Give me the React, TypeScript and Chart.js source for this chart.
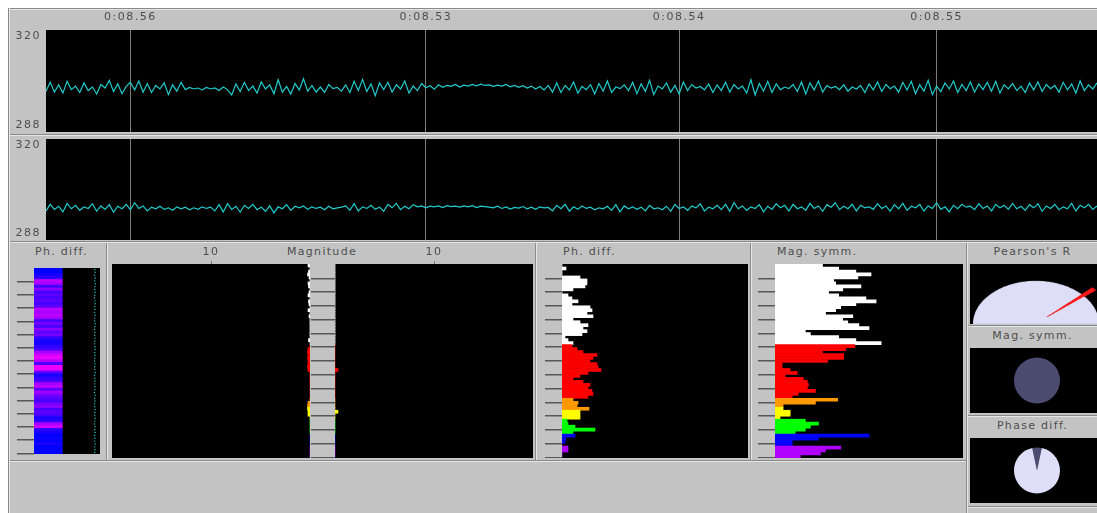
import React, { useEffect, useRef } from "react";
import { Chart, registerables } from "chart.js";

Chart.register(...registerables);
Chart.defaults.font.family = "'DejaVu Sans', sans-serif";
Chart.defaults.font.size = 11;
Chart.defaults.color = "#4e4e4e";

// ---------------- DATA ----------------
const yMin = 288;
const yMax = 320;
const markerIndex = [20, 90, 150, 211];
const markerLabels = ["0:08.56", "0:08.53", "0:08.54", "0:08.55"];

const traceA = [
  300.8, 303.6, 300.5, 302.8, 300.2, 303.9, 301.3, 302.4, 300.4, 303.4,
  301.0, 302.1, 299.9, 302.9, 301.8, 304.2, 300.7, 303.1, 300.0, 302.3,
  303.6, 301.2, 304.0, 300.5, 303.2, 300.4, 302.6, 301.5, 303.4, 299.7,
  302.8, 300.8, 303.6, 301.3, 302.0, 301.5, 301.8, 301.2, 302.0, 301.5,
  301.8, 301.0, 302.1, 301.3, 299.6, 303.1, 300.7, 303.6, 301.0, 302.4,
  300.2, 303.7, 301.5, 302.8, 300.0, 304.4, 300.5, 302.3, 299.9, 303.2,
  301.2, 304.7, 300.8, 302.6, 300.5, 302.1, 300.4, 302.9, 301.6, 302.0,
  300.8, 302.8, 300.4, 303.9, 301.0, 304.5, 300.7, 303.1, 299.4, 303.4,
  301.3, 303.6, 300.5, 302.8, 301.5, 304.0, 300.2, 302.4, 301.0, 303.2,
  301.9, 302.5, 301.4, 302.8, 302.0, 302.6, 302.3, 302.9, 302.1, 302.7,
  302.4, 302.9, 302.5, 303.0, 302.6, 302.8, 302.3, 302.7, 302.4, 302.9,
  302.2, 302.6, 302.0, 302.5, 301.8, 302.4, 301.5, 302.3, 301.2, 302.6,
  300.5, 303.4, 300.4, 302.6, 301.2, 303.7, 300.2, 302.3, 301.3, 302.9,
  299.9, 303.2, 300.8, 304.0, 300.4, 302.1, 301.6, 302.8, 301.0, 303.6,
  300.0, 303.1, 300.7, 304.2, 299.7, 302.4, 301.5, 303.4, 300.5, 302.6,
  299.9, 303.7, 301.0, 302.9, 301.8, 302.3, 301.2, 303.1, 300.4, 302.8,
  301.0, 303.6, 300.5, 302.9, 301.5, 302.4, 300.2, 304.4, 299.6, 303.2,
  300.8, 303.9, 300.4, 303.1, 301.3, 302.1, 301.6, 302.9, 300.7, 303.7,
  299.9, 303.4, 301.2, 304.0, 300.5, 302.6, 301.8, 302.3, 301.3, 302.8,
  300.8, 302.1, 301.5, 302.6, 300.4, 303.1, 301.2, 303.7, 300.7, 302.9,
  301.6, 302.4, 300.5, 303.6, 301.2, 303.9, 300.0, 302.8, 300.8, 304.2,
  299.7, 302.4, 300.7, 303.4, 301.5, 304.0, 300.4, 302.9, 301.0, 303.7,
  300.5, 303.1, 301.3, 303.6, 300.8, 303.9, 300.2, 302.8, 301.5, 303.2,
  301.0, 302.4, 300.4, 303.4, 301.2, 303.7, 300.7, 302.9, 301.6, 302.6,
  300.5, 303.6, 301.2, 303.1, 300.2, 304.0, 301.0, 302.8, 301.5, 303.4,
];

const traceB = [
  297.2, 299.3, 297.7, 298.7, 296.9, 299.6, 297.9, 299.0, 297.4, 298.5,
  298.0, 299.5, 297.1, 298.8, 297.7, 299.2, 296.8, 298.7, 297.9, 299.3,
  297.6, 299.8, 298.0, 298.8, 297.2, 298.4, 297.9, 298.7, 297.7, 298.2,
  297.4, 298.5, 297.9, 298.4, 297.6, 298.2, 297.7, 298.5, 298.0, 298.4,
  297.2, 299.2, 296.9, 299.5, 297.7, 298.7, 296.8, 299.0, 298.0, 299.3,
  297.6, 298.4, 297.1, 298.8, 296.6, 298.5, 297.9, 299.2, 297.4, 298.7,
  298.2, 298.8, 297.7, 298.5, 298.0, 298.4, 297.6, 298.7, 297.9, 298.2,
  298.4, 298.8, 297.4, 299.5, 297.2, 298.5, 298.0, 299.0, 297.7, 298.4,
  297.1, 299.3, 298.2, 299.6, 297.6, 298.7, 297.9, 299.2, 298.5, 298.8,
  298.2, 298.7, 298.5, 298.8, 298.3, 298.9, 298.6, 298.7, 298.4, 298.8,
  298.5, 298.9, 298.3, 298.7, 298.6, 298.4, 298.2, 298.7, 298.0, 298.5,
  297.8, 298.3, 298.1, 298.6, 297.9, 298.4, 297.7, 298.5, 298.2, 298.3,
  297.2, 299.0, 297.9, 299.3, 297.1, 298.5, 297.7, 298.8, 298.0, 298.4,
  297.6, 298.2, 297.9, 298.7, 297.4, 299.2, 296.9, 298.8, 297.9, 298.5,
  297.7, 298.4, 297.2, 299.0, 297.9, 298.2, 297.6, 298.7, 297.1, 299.3,
  298.0, 298.5, 297.4, 298.8, 298.2, 299.5, 297.2, 298.4, 297.9, 299.0,
  297.6, 299.3, 297.1, 299.8, 297.9, 298.8, 297.4, 298.5, 298.0, 299.2,
  296.9, 298.7, 297.7, 299.5, 298.2, 299.0, 297.2, 299.3, 297.9, 298.5,
  297.4, 299.6, 298.0, 298.8, 297.1, 299.2, 298.4, 299.8, 297.6, 298.7,
  297.9, 299.3, 297.2, 299.0, 298.2, 298.5, 297.7, 299.5, 298.0, 298.8,
  297.1, 299.2, 297.9, 299.6, 297.4, 298.7, 298.2, 299.3, 297.2, 298.8,
  298.0, 299.8, 297.7, 298.5, 296.9, 299.0, 297.9, 299.3, 298.4, 298.7,
  297.6, 299.5, 298.0, 298.8, 297.2, 299.3, 298.2, 299.0, 297.7, 299.6,
  297.9, 298.7, 297.4, 299.2, 298.2, 299.5, 297.1, 298.8, 298.0, 299.3,
  297.6, 298.5, 297.9, 299.6, 297.2, 299.0, 298.2, 299.3, 297.7, 298.8,
];

// Phase-difference colour strip (0 = blue, 1 = magenta), one value per row
const phStrip = [
  0, 0, 0.1, 0.2, 0.8, 0.7, 0.3, 0.6, 0.3, 0.4,
  0.3, 0.4, 0.3, 0.4, 0.8, 0.7, 0.8, 0.7, 0.3, 0.5,
  0.3, 0.6, 0.4, 0.5, 0.2, 0.1, 0.1, 0.2, 0.3, 0.7,
  0.9, 1.0, 0.8, 0.3, 1.0, 1.0, 0.4, 0.1, 0.2, 0.3,
  0.7, 0.8, 0.4, 0.7, 0.5, 0.4, 0.3, 0.5, 0.6, 0.3,
  0.4, 0.3, 0.1, 0.2, 0.7, 0.9, 0.2, 0.1, 0, 0.05,
  0, 0.1, 0, 0, 0,
];
const phStripLen = 30;
const phStripMax = 70;
const phDots = [
  64.5, 64.8, 64.2, 64.9, 64.4, 65.1, 64.6, 64.3, 64.8, 64.5,
  64.1, 64.7, 64.9, 64.4, 64.6, 64.2, 64.8, 64.5, 64.3, 64.9,
  64.6, 64.1, 64.7, 64.4, 64.8, 64.5, 64.2, 64.6, 64.9, 64.3,
  64.7, 64.5, 64.1, 64.8, 64.4, 64.6, 64.9, 64.2, 64.5, 64.7,
  64.3, 64.8, 64.6, 64.1, 64.9, 64.4, 64.7, 64.2, 64.5, 64.8,
  64.6, 64.3, 64.9, 64.5, 64.1, 64.7, 64.4, 64.8, 64.2, 64.6,
  64.5, 64.9, 64.3, 64.7, 64.4,
];

// Magnitude (left / right channel), scale 0..20
const magMax = 20;
const magLeft = [
  0.2, 0, 0.15, 0.25, 0.1, 0, 0.2, 0.15, 0, 0.1,
  0.2, 0, 0.15, 0.1, 0, 0.2, 0, 0.1, 0, 0,
  0, 0, 0, 0, 0, 0.15, 0,
  0, 0.2, 0.25, 0.2, 0.25, 0.2, 0.2, 0.25, 0.2, 0, 0, 0, 0, 0, 0, 0, 0, 0,
  0, 0.2, 0.25,
  0.25, 0.2, 0.2, 0,
  0, 0, 0, 0, 0,
  0, 0, 0, 0,
  0, 0, 0, 0,
];
const magRight = [
  0, 0, 0, 0, 0, 0, 0, 0, 0, 0,
  0, 0, 0, 0, 0, 0, 0, 0, 0, 0,
  0, 0, 0, 0, 0, 0, 0,
  0, 0, 0, 0, 0, 0, 0, 0, 0.3, 0, 0, 0, 0, 0, 0, 0, 0, 0,
  0, 0, 0,
  0, 0.3, 0, 0,
  0, 0, 0, 0, 0,
  0, 0, 0, 0,
  0, 0, 0, 0,
];

// Phase-difference histogram
const histMax = 186;
const phDiffCounts = [
  0, 4, 0, 0, 18, 25, 25, 23, 11, 0,
  6, 10, 16, 10, 28, 30, 25, 31, 11, 18,
  26, 21, 25, 20, 3, 6, 11,
  10, 15, 21, 35, 31, 28, 35, 36, 39, 26, 18, 11, 21, 28, 26, 30, 31, 26,
  11, 16, 15, 27,
  18, 18, 18,
  5, 6, 13, 33, 11,
  13, 4, 3,
  0, 6, 6, 0, 0,
];
// Magnitude-symmetry histogram
const magSymmCounts = [
  47, 63, 80, 95, 82, 58, 60, 85, 67, 53,
  63, 90, 100, 80, 65, 60, 50, 77, 67, 72,
  83, 93, 30, 35, 63, 80, 105,
  79, 70, 47, 68, 68, 52, 7, 7, 15, 22, 10, 28, 32, 33, 32, 40, 23, 17,
  62, 40, 8,
  8, 15, 15, 5,
  30, 43, 35, 30, 20,
  93, 43, 17, 17,
  65, 50, 45, 25,
];
const bandColors = ["#ffffff", "#ff0000", "#ff9900", "#ffff00", "#00ff00", "#0000ff", "#b000ff"];
const phBandSizes = [27, 18, 4, 3, 5, 3, 5];
const magBandSizes = [27, 18, 3, 4, 5, 4, 4];
const histTickRows = [5, 10, 15, 20, 25, 30, 35, 40, 45, 50, 55, 60, 65];

const pearsonR = 0.54;
const phaseDiffDeg = 24;
const magSymmValue = [1];

// ---------------- STYLE ----------------
const GREY = "#c3c3c3";
const TEXT = "#4e4e4e";
const LAVENDER = "#dedef8";
const SLATE = "#4c4c70";
const CYAN = "#22cccc";
const RED = "#ff1818";
const CLEAR = "rgba(0,0,0,0)";

const rowCount = phDiffCounts.length;
const rowLabels = phDiffCounts.map((_, i) => String(i));

function expandBands(sizes: number[]) {
  const out: string[] = [];
  sizes.forEach((n, i) => {
    for (let k = 0; k < n; k++) out.push(bandColors[i]);
  });
  return out;
}
const phColors = expandBands(phBandSizes);
const magColors = expandBands(magBandSizes);
const stripColors = phStrip.map((v) => `rgb(${Math.round(235 * v)},0,255)`);

const blackBg = {
  id: "blackBg",
  beforeDraw(chart: any) {
    const { ctx, chartArea: a } = chart;
    ctx.save();
    ctx.fillStyle = "#000";
    ctx.fillRect(a.left, a.top, a.right - a.left, a.bottom - a.top);
    ctx.restore();
  },
};
const spacing = {
  id: "spacing",
  beforeDraw(chart: any) {
    try {
      chart.ctx.letterSpacing = "1.5px";
    } catch (e) {}
  },
};

function zeroPad(s: any) {
  s.paddingTop = 0;
  s.paddingBottom = 0;
  s.paddingLeft = 0;
  s.paddingRight = 0;
}

function baseOptions(extra: any = {}) {
  return {
    animation: false,
    responsive: true,
    maintainAspectRatio: false,
    events: [],
    layout: { padding: 0 },
    plugins: { legend: { display: false }, tooltip: { enabled: false }, title: { display: false } },
    ...extra,
  };
}

function traceConfig(values: number[], showLabels: boolean) {
  return {
    type: "line",
    data: {
      datasets: [
        {
          data: values.map((v, i) => ({ x: i, y: v })),
          borderColor: CYAN,
          borderWidth: 1.2,
          pointRadius: 0,
          tension: 0,
          fill: false,
        },
      ],
    },
    options: baseOptions({
      scales: {
        x: {
          type: "linear",
          position: "top",
          min: 0,
          max: values.length - 1,
          afterBuildTicks: (s: any) => {
            s.ticks = markerIndex.map((v) => ({ value: v }));
          },
          afterFit: (s: any) => {
            s.height = showLabels ? 21 : 0;
            zeroPad(s);
          },
          grid: { color: "#7c7c7c", lineWidth: 1, drawTicks: false },
          border: { display: false },
          ticks: {
            display: showLabels,
            autoSkip: false,
            maxRotation: 0,
            padding: 6,
            color: TEXT,
            callback: (_v: any, i: number) => markerLabels[i],
          },
        },
        y: {
          type: "linear",
          min: yMin,
          max: yMax,
          afterBuildTicks: (s: any) => {
            s.ticks = [{ value: yMin }, { value: yMax }];
          },
          afterFit: (s: any) => {
            s.width = 36;
            zeroPad(s);
          },
          grid: { display: false, drawTicks: false },
          border: { display: false },
          ticks: {
            padding: 5,
            color: TEXT,
            callback: (v: any) => (v === yMax ? ["", String(yMax)] : [String(yMin), ""]),
          },
        },
      },
    }),
    plugins: [blackBg, spacing],
  };
}

function tickAxis(width: number) {
  return {
    type: "linear",
    position: "left",
    reverse: true,
    min: 0,
    max: rowCount,
    afterBuildTicks: (s: any) => {
      s.ticks = histTickRows.map((v) => ({ value: v }));
    },
    afterFit: (s: any) => {
      s.width = width;
      zeroPad(s);
    },
    ticks: { display: false },
    grid: { drawOnChartArea: false, drawTicks: true, tickLength: width, color: "#575757", lineWidth: 1.5 },
    border: { display: false },
  };
}

function histConfig(values: number[], colors: string[]) {
  return {
    type: "bar",
    data: {
      labels: rowLabels,
      datasets: [
        {
          data: values,
          backgroundColor: colors,
          borderWidth: 0,
          barPercentage: 1,
          categoryPercentage: 1,
        },
      ],
    },
    options: baseOptions({
      indexAxis: "y",
      scales: {
        x: { type: "linear", display: false, min: 0, max: histMax },
        y: { type: "category", display: false, offset: true },
        yt: tickAxis(17),
      },
    }),
    plugins: [blackBg],
  };
}

function stripConfig() {
  return {
    type: "bar",
    data: {
      labels: rowLabels,
      datasets: [
        {
          type: "bar",
          data: phStrip.map(() => phStripLen),
          backgroundColor: stripColors,
          borderWidth: 0,
          barPercentage: 1,
          categoryPercentage: 1,
        },
        {
          type: "line",
          indexAxis: "y",
          data: phDots,
          showLine: false,
          pointRadius: 0.7,
          pointBorderWidth: 0,
          pointBackgroundColor: CYAN,
          borderColor: CYAN,
        },
      ],
    },
    options: baseOptions({
      indexAxis: "y",
      scales: {
        x: { type: "linear", display: false, min: 0, max: phStripMax },
        y: { type: "category", display: false, offset: true },
        yt: tickAxis(17),
      },
    }),
    plugins: [blackBg],
  };
}

function magConfig(values: number[], reverse: boolean, tickW: number) {
  const scales: any = {
    x: {
      type: "linear",
      position: "top",
      reverse,
      min: 0,
      max: magMax,
      afterBuildTicks: (s: any) => {
        s.ticks = [{ value: 10 }];
      },
      afterFit: (s: any) => {
        s.height = 21;
        zeroPad(s);
      },
      grid: { drawOnChartArea: false, drawTicks: true, tickLength: 3, color: "#7a7a7a" },
      border: { display: false },
      ticks: { padding: 2, color: TEXT, maxRotation: 0, callback: (v: any) => String(v) },
    },
    y: { type: "category", display: false, offset: true },
  };
  if (tickW > 0) scales.yt = tickAxis(tickW);
  return {
    type: "bar",
    data: {
      labels: rowLabels,
      datasets: [
        {
          data: values,
          backgroundColor: magColors,
          borderWidth: 0,
          barPercentage: 1,
          categoryPercentage: 1,
        },
      ],
    },
    options: baseOptions({ indexAxis: "y", scales }),
    plugins: [blackBg, spacing],
  };
}

function gaugeConfig() {
  const ang = ((pearsonR + 1) / 2) * 180;
  const half = 2.0;
  const parts = [ang - half, half * 2, 180 - ang - half];
  return {
    type: "doughnut",
    data: {
      datasets: [
        {
          data: parts,
          backgroundColor: [CLEAR, RED, CLEAR],
          borderColor: [CLEAR, RED, CLEAR],
          borderWidth: [0, 0.5, 0],
          weight: 15,
        },
        {
          data: parts,
          backgroundColor: [LAVENDER, RED, LAVENDER],
          borderColor: [LAVENDER, RED, LAVENDER],
          borderWidth: [1, 0.5, 1],
          weight: 48,
        },
        { data: [180], backgroundColor: [LAVENDER], borderColor: [LAVENDER], borderWidth: 1, weight: 15 },
      ],
    },
    options: baseOptions({ circumference: 180, rotation: -90, cutout: 0 }),
  };
}

function magPieConfig() {
  return {
    type: "pie",
    data: { datasets: [{ data: magSymmValue, backgroundColor: [SLATE], borderWidth: 0, radius: 23 }] },
    options: baseOptions({ layout: { padding: { left: 7 } } }),
  };
}

function phasePieConfig() {
  return {
    type: "pie",
    data: {
      datasets: [
        {
          data: [phaseDiffDeg, 360 - phaseDiffDeg],
          backgroundColor: [SLATE, LAVENDER],
          borderWidth: 0,
          radius: 23,
        },
      ],
    },
    options: baseOptions({ rotation: -phaseDiffDeg / 2, layout: { padding: { left: 7 } } }),
  };
}

// ---------------- COMPONENTS ----------------
function ChartCanvas({ make }: { make: () => any }) {
  const ref = useRef<HTMLCanvasElement | null>(null);
  useEffect(() => {
    const chart = new Chart(ref.current as HTMLCanvasElement, make());
    return () => chart.destroy();
  }, []);
  return <canvas ref={ref} />;
}

function Box(props: { x: number; y: number; w: number; h: number; style?: any; children?: any }) {
  const { x, y, w, h, style, children } = props;
  return (
    <div style={{ position: "absolute", left: x, top: y, width: w, height: h, ...(style || {}) }}>{children}</div>
  );
}

function Label(props: { x: number; y: number; w?: number; text: string; center?: boolean }) {
  const { x, y, w, text, center } = props;
  return (
    <div
      style={{
        position: "absolute",
        left: x,
        top: y,
        width: w,
        fontFamily: "'DejaVu Sans', sans-serif",
        fontSize: 11,
        lineHeight: "13px",
        color: TEXT,
        letterSpacing: "1.3px",
        whiteSpace: "nowrap",
        textAlign: center ? "center" : "left",
      }}
    >
      {text}
    </div>
  );
}

function Groove(props: { x: number; y: number; w: number; h: number }) {
  const { x, y, w, h } = props;
  const vertical = h > w;
  return (
    <>
      <Box x={x} y={y} w={w} h={h} style={{ background: "#8a8a8a" }} />
      <Box x={vertical ? x + w : x} y={vertical ? y : y + h} w={w} h={h} style={{ background: "#e6e6e6" }} />
    </>
  );
}

export default function App() {
  return (
    <div
      style={{
        position: "fixed",
        left: 0,
        top: 0,
        width: 1097,
        height: 513,
        background: "#ffffff",
        overflow: "hidden",
      }}
    >
      <Box x={9} y={8} w={1088} h={505} style={{ background: GREY }} />
      <Groove x={8} y={8} w={1089} h={1} />
      <Groove x={8} y={8} w={1} h={505} />

      {/* Top traces */}
      <Box x={10} y={9} w={1087} h={123}>
        <ChartCanvas make={() => traceConfig(traceA, true)} />
      </Box>
      <Groove x={10} y={134} w={1087} h={1} />
      <Box x={10} y={139} w={1087} h={101}>
        <ChartCanvas make={() => traceConfig(traceB, false)} />
      </Box>
      <Groove x={10} y={241} w={1087} h={1} />

      {/* Panel 1: Ph. diff. strip */}
      <Label x={35} y={245} text="Ph. diff." />
      <Box x={17} y={264} w={87} h={194}>
        <ChartCanvas make={stripConfig} />
      </Box>
      <Groove x={106} y={243} w={1} h={217} />

      {/* Panel 2: Magnitude */}
      <Label x={262} y={245} w={120} text="Magnitude" center />
      <Box x={112} y={243} w={198} h={215}>
        <ChartCanvas make={() => magConfig(magLeft, true, 0)} />
      </Box>
      <Box x={311} y={243} w={222} h={215}>
        <ChartCanvas make={() => magConfig(magRight, false, 24)} />
      </Box>
      <Groove x={535} y={243} w={1} h={217} />

      {/* Panel 3: Ph. diff. histogram */}
      <Label x={563} y={245} text="Ph. diff." />
      <Box x={545} y={264} w={203} h={194}>
        <ChartCanvas make={() => histConfig(phDiffCounts, phColors)} />
      </Box>
      <Groove x={750} y={243} w={1} h={217} />

      {/* Panel 4: Mag. symm. histogram */}
      <Label x={777} y={245} text="Mag. symm." />
      <Box x={758} y={264} w={205} h={194}>
        <ChartCanvas make={() => histConfig(magSymmCounts, magColors)} />
      </Box>
      <Groove x={966} y={243} w={1} h={270} />

      <Groove x={10} y={460} w={956} h={1} />

      {/* Right column */}
      <Label x={968} y={245} w={129} text="Pearson's R" center />
      <Box x={970} y={264} w={127} h={60} style={{ background: "#000", overflow: "hidden" }}>
        <div
          style={{
            position: "absolute",
            left: -12,
            bottom: 0,
            width: 156,
            height: 78,
            transform: "scaleY(0.683)",
            transformOrigin: "bottom",
          }}
        >
          <ChartCanvas make={gaugeConfig} />
        </div>
      </Box>
      <Groove x={968} y={325} w={129} h={1} />
      <Label x={968} y={329} w={129} text="Mag. symm." center />
      <Box x={970} y={348} w={127} h={65} style={{ background: "#000" }}>
        <ChartCanvas make={magPieConfig} />
      </Box>
      <Groove x={968} y={415} w={129} h={1} />
      <Label x={968} y={419} w={129} text="Phase diff." center />
      <Box x={970} y={438} w={127} h={65} style={{ background: "#000" }}>
        <ChartCanvas make={phasePieConfig} />
      </Box>
      <Groove x={968} y={506} w={129} h={1} />
    </div>
  );
}
